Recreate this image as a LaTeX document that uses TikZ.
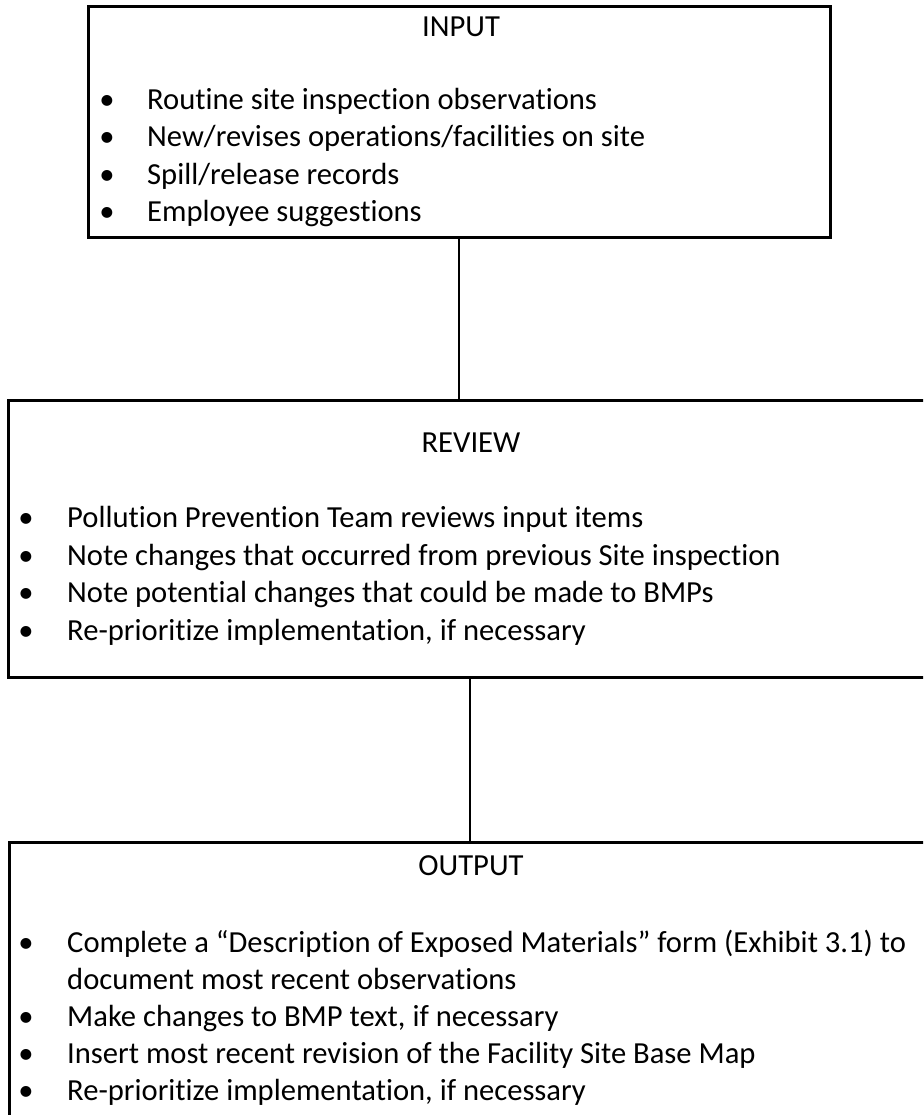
\documentclass[tikz,border=0pt]{standalone}
\usepackage{fontspec}
\setmainfont{Carlito}[Ligatures=CommonOff]
\begin{document}
\begin{tikzpicture}[x=1pt,y=-1pt,
  box/.style={draw=black, line width=2.6pt, fill=none, inner sep=0pt, anchor=north west},
  conn/.style={draw=black, line width=1.3pt},
  ttl/.style={anchor=base, inner sep=0pt, font=\fontsize{30.6}{37}\selectfont},
  bul/.style={anchor=base, inner sep=0pt, font=\fontsize{30.6}{37}\selectfont},
  itm/.style={anchor=base west, inner sep=0pt, font=\fontsize{30.6}{37}\selectfont}]
\clip (0,0) rectangle (923,1115);
\fill[white] (0,0) rectangle (923,1115);
% boxes
\node[box, minimum width=742pt, minimum height=231pt] (input) at (87,5) {};
\node[box, minimum width=940pt, minimum height=277pt] (review) at (7,399) {};
\node[box, minimum width=940pt, minimum height=300pt] (output) at (8,841) {};
% connectors
\coordinate (c1) at (459,0);
\coordinate (c2) at (470,0);
\draw[conn] (input.south -| c1) -- (review.north -| c1);
\draw[conn] (review.south -| c2) -- (output.north -| c2);
% INPUT
\node[ttl] (t1) at (461,37) {INPUT};
\node[bul] (b11) at (107,110) {•};
\node[itm] (i11) at (147,110) {Routine site inspection observations};
\node[bul] (b12) at (107,147) {•};
\node[itm] (i12) at (147,147) {New/revises operations/facilities on site};
\node[bul] (b13) at (107,185) {•};
\node[itm] (i13) at (147,185) {Spill/release records};
\node[bul] (b14) at (107,222) {•};
\node[itm] (i14) at (147,222) {Employee suggestions};
% REVIEW
\node[ttl] (t2) at (471,452) {REVIEW};
\node[bul] (b21) at (26,527) {•};
\node[itm] (i21) at (67,527) {Pollution Prevention Team reviews input items};
\node[bul] (b22) at (26,565) {•};
\node[itm] (i22) at (67,565) {Note changes that occurred from previous Site inspection};
\node[bul] (b23) at (26,602) {•};
\node[itm] (i23) at (67,602) {Note potential changes that could be made to BMPs};
\node[bul] (b24) at (26,640) {•};
\node[itm] (i24) at (67,640) {Re-prioritize implementation, if necessary};
% OUTPUT
\node[ttl] (t3) at (471,875) {OUTPUT};
\node[bul] (b31) at (26,952) {•};
\node[itm] (i31) at (67,952) {Complete a “Description of Exposed Materials” form (Exhibit 3.1) to};
\node[itm] (i31b) at (67,989) {document most recent observations};
\node[bul] (b32) at (26,1026) {•};
\node[itm] (i32) at (67,1026) {Make changes to BMP text, if necessary};
\node[bul] (b33) at (26,1063) {•};
\node[itm] (i33) at (67,1063) {Insert most recent revision of the Facility Site Base Map};
\node[bul] (b34) at (26,1100) {•};
\node[itm] (i34) at (67,1100) {Re-prioritize implementation, if necessary};
\end{tikzpicture}
\end{document}
